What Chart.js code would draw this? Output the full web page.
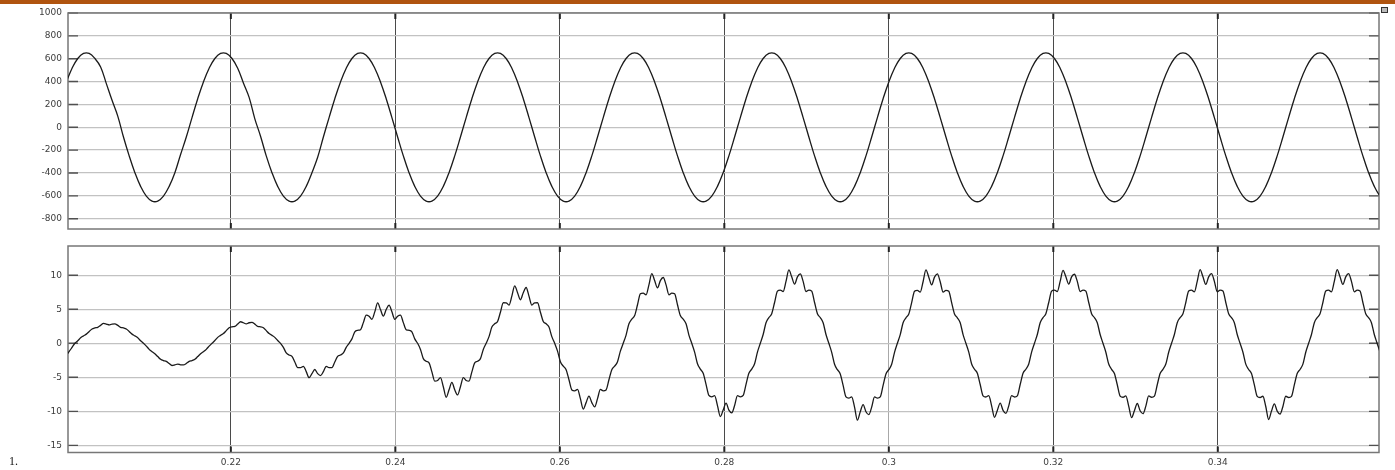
<!DOCTYPE html>
<html>
<head>
<meta charset="utf-8">
<script src="https://cdn.jsdelivr.net/npm/chart.js@4.4.1/dist/chart.umd.min.js"></script>
<style>
  html, body { margin: 0; padding: 0; background: #fff; }
  body { width: 1395px; height: 470px; position: relative; overflow: hidden; }
  .band { position: absolute; left: 0; top: 0; width: 1395px; height: 4px; background: #b0540f; }
  canvas { position: absolute; left: 0; }
  #voltageChart { top: 0; }
  #currentChart { top: 230px; }
  .fig-no { position: absolute; left: 9px; top: 454px; font: 12px "Liberation Serif", "Times New Roman", serif; color: #111; }
  .corner { position: absolute; left: 1381px; top: 7px; width: 5px; height: 4px; border: 1px solid #333; background: #bbb; }
</style>
</head>
<body>
<div class="band"></div>
<canvas id="voltageChart" width="1395" height="242"></canvas>
<canvas id="currentChart" width="1395" height="240"></canvas>
<div class="fig-no">1.</div>
<div class="corner"></div>
<script>
// time axis (s)
const timeTicks = [0.22, 0.24, 0.26, 0.28, 0.3, 0.32, 0.34];
const voltageTicks = [-800, -600, -400, -200, 0, 200, 400, 600, 800, 1000];
const currentTicks = [-15, -10, -5, 0, 5, 10];

// sampling of the two traces
const voltageStart = 0.2, voltageStep = 1 / 1440;
const currentStart = 0.2, currentStep = 1 / 2880;

// upper trace: grid voltage (V)
const voltage = [
  397, 517, 602, 646, 646, 602, 528, 382, 236, 98, -85, -250, -397, -517, -602, -646, -646, -602, -517, -397, -238, -85, 85, 250,
  397, 517, 602, 646, 646, 602, 517, 388, 262, 74, -78, -250, -397, -517, -602, -646, -646, -602, -517, -397, -262, -85, 85, 250,
  397, 517, 602, 646, 646, 602, 517, 397, 250, 85, -85, -250, -397, -517, -602, -646, -646, -602, -517, -397, -250, -85, 85, 250,
  397, 517, 602, 646, 646, 602, 517, 397, 250, 85, -85, -250, -397, -517, -602, -646, -646, -602, -517, -397, -250, -85, 85, 250,
  397, 517, 602, 646, 646, 602, 517, 397, 250, 85, -85, -250, -397, -517, -602, -646, -646, -602, -517, -397, -250, -85, 85, 250,
  397, 517, 602, 646, 646, 602, 517, 397, 250, 85, -85, -250, -397, -517, -602, -646, -646, -602, -517, -397, -250, -85, 85, 250,
  397, 517, 602, 646, 646, 602, 517, 397, 250, 85, -85, -250, -397, -517, -602, -646, -646, -602, -517, -397, -250, -85, 85, 250,
  397, 517, 602, 646, 646, 602, 517, 397, 250, 85, -85, -250, -397, -517, -602, -646, -646, -602, -517, -397, -250, -85, 85, 250,
  397, 517, 602, 646, 646, 602, 517, 397, 250, 85, -85, -250, -397, -517, -602, -646, -646, -602, -517, -397, -250, -85, 85, 250,
  397, 517, 602, 646, 646, 602, 517, 397, 250, 85, -85, -250, -397, -517, -602, -646
];

// lower trace: injected current (A)
const current = [
  -1.75, -1.2, -0.6, 0,
  0.37, 0.8, 1.09, 1.35, 1.74, 2.11, 2.26, 2.35, 2.63, 2.92, 2.83, 2.7, 2.83, 2.84, 2.63, 2.35, 2.26, 2.11, 1.74, 1.35, 1.09, 0.8, 0.37, 0,
  -0.42, -0.89, -1.23, -1.53, -1.95, -2.35, -2.54, -2.65, -2.96, -3.26, -3.17, -3.05, -3.17, -3.18, -2.96, -2.65, -2.54, -2.35, -1.95, -1.53, -1.23, -0.89, -0.42, 0,
  0.4, 0.87, 1.17, 1.43, 1.86, 2.28, 2.42, 2.48, 2.82, 3.17, 3.02, 2.85, 3.02, 3.07, 2.82, 2.48, 2.42, 2.28, 1.86, 1.43, 1.17, 0.87, 0.4, 0,
  -0.59, -1.42, -1.72, -1.93, -2.74, -3.57, -3.57, -3.38, -4.16, -5.06, -4.46, -3.85, -4.46, -4.74, -4.16, -3.38, -3.57, -3.57, -2.74, -1.93, -1.72, -1.42, -0.59, 0,
  0.65, 1.69, 1.91, 2.0, 3.04, 4.14, 3.97, 3.53, 4.62, 5.93, 4.96, 4.0, 4.96, 5.6, 4.62, 3.53, 3.97, 4.14, 3.04, 2.0, 1.91, 1.69, 0.65, 0,
  -0.9, -2.25, -2.64, -2.88, -4.2, -5.57, -5.47, -5.06, -6.38, -7.93, -6.84, -5.75, -6.84, -7.59, -6.38, -5.06, -5.47, -5.57, -4.2, -2.88, -2.64, -2.25, -0.9, 0,
  0.98, 2.38, 2.87, 3.2, 4.57, 5.96, 5.95, 5.62, 6.93, 8.45, 7.44, 6.4, 7.44, 8.2, 6.93, 5.62, 5.95, 5.96, 4.57, 3.2, 2.87, 2.38, 0.98, 0,
  -1.15, -2.7, -3.37, -3.88, -5.36, -6.85, -6.98, -6.78, -8.13, -9.66, -8.72, -7.75, -8.72, -9.34, -8.13, -6.78, -6.98, -6.85, -5.36, -3.88, -3.37, -2.7, -1.15, 0,
  1.21, 2.87, 3.56, 4.08, 5.66, 7.27, 7.38, 7.13, 8.59, 10.25, 9.22, 8.15, 9.22, 9.67, 8.59, 7.13, 7.38, 7.27, 5.66, 4.08, 3.56, 2.87, 1.21, 0,
  -1.29, -3.0, -3.79, -4.4, -6.03, -7.66, -7.86, -7.69, -9.15, -10.77, -9.82, -8.8, -9.82, -10.22, -9.15, -7.69, -7.86, -7.66, -6.03, -4.4, -3.79, -3.0, -1.29, 0,
  1.29, 3.01, 3.77, 4.35, 6.0, 7.66, 7.82, 7.61, 9.1, 10.78, 9.77, 8.7, 9.77, 10.2, 9.1, 7.61, 7.82, 7.66, 6.0, 4.35, 3.77, 3.01, 1.29, 0,
  -1.33, -3.09, -3.88, -4.5, -6.18, -7.87, -8.05, -7.87, -9.38, -11.3, -10.06, -9.0, -10.06, -10.49, -9.38, -7.87, -8.05, -7.87, -6.18, -4.5, -3.88, -3.09, -1.33, 0,
  1.28, 3.02, 3.75, 4.3, 5.97, 7.65, 7.78, 7.53, 9.05, 10.79, 9.72, 8.6, 9.72, 10.19, 9.05, 7.53, 7.78, 7.65, 5.97, 4.3, 3.75, 3.02, 1.28, 0,
  -1.3, -3.04, -3.81, -4.4, -6.06, -7.73, -7.89, -7.7, -9.19, -10.88, -9.86, -8.8, -9.86, -10.3, -9.19, -7.7, -7.89, -7.73, -6.06, -4.4, -3.81, -3.04, -1.3, 0,
  1.29, 3.01, 3.77, 4.35, 6.0, 7.66, 7.82, 7.61, 9.1, 10.72, 9.77, 8.7, 9.77, 10.15, 9.1, 7.61, 7.82, 7.66, 6.0, 4.35, 3.77, 3.01, 1.29, 0,
  -1.31, -3.05, -3.83, -4.43, -6.09, -7.76, -7.93, -7.74, -9.24, -10.92, -9.91, -8.85, -9.91, -10.35, -9.24, -7.74, -7.93, -7.76, -6.09, -4.43, -3.83, -3.05, -1.31, 0,
  1.29, 3.03, 3.77, 4.33, 6.0, 7.69, 7.82, 7.57, 9.1, 10.83, 9.77, 8.65, 9.77, 10.23, 9.1, 7.57, 7.82, 7.69, 6.0, 4.33, 3.77, 3.03, 1.29, 0,
  -1.31, -3.06, -3.85, -4.45, -6.12, -7.8, -7.97, -7.78, -9.29, -11.2, -9.96, -8.9, -9.96, -10.4, -9.29, -7.78, -7.97, -7.8, -6.12, -4.45, -3.85, -3.06, -1.31, 0,
  1.29, 3.03, 3.77, 4.33, 6.0, 7.69, 7.82, 7.57, 9.1, 10.83, 9.77, 8.65, 9.77, 10.23, 9.1, 7.57, 7.82, 7.69, 6.0, 4.33, 3.77, 3.03, 1.29, 0,
  -1.31, -3.06
];

const tickFont = { family: '"DejaVu Sans", Arial, sans-serif', size: 9 };

// box round the axes plus short inward tick marks on every side
const frame = {
  id: 'frame',
  beforeDatasetsDraw(chart) {
    const { ctx, chartArea: a, scales: { x, y } } = chart;
    ctx.save();
    ctx.strokeStyle = '#505050';
    ctx.lineWidth = 1.4;
    y.ticks.forEach(t => {
      const py = y.getPixelForValue(t.value);
      ctx.beginPath();
      ctx.moveTo(a.left, py); ctx.lineTo(a.left + 10, py);
      ctx.moveTo(a.right, py); ctx.lineTo(a.right - 10, py);
      ctx.stroke();
    });
    ctx.strokeStyle = '#222';
    ctx.lineWidth = 2;
    x.ticks.forEach(t => {
      const px = x.getPixelForValue(t.value);
      ctx.beginPath();
      ctx.moveTo(px, a.top); ctx.lineTo(px, a.top + 6);
      ctx.moveTo(px, a.bottom); ctx.lineTo(px, a.bottom - 6);
      ctx.stroke();
    });
    ctx.strokeStyle = '#777';
    ctx.lineWidth = 1.5;
    ctx.strokeRect(a.left, a.top, a.right - a.left, a.bottom - a.top);
    ctx.restore();
  }
};

function drawPanel(id, points, range, yTicks, opts) {
  return new Chart(document.getElementById(id), {
    type: 'line',
    data: {
      datasets: [{
        data: points,
        borderColor: '#1a1a1a',
        borderWidth: 1.3,
        pointRadius: 0,
        tension: opts.tension,
        cubicInterpolationMode: opts.smooth,
        fill: false
      }]
    },
    options: {
      responsive: false,
      animation: false,
      devicePixelRatio: 1,
      layout: { padding: opts.padding },
      plugins: { legend: { display: false }, tooltip: { enabled: false } },
      scales: {
        x: {
          type: 'linear',
          min: 0.2002,
          max: 0.3596,
          afterBuildTicks: s => { s.ticks = timeTicks.map(value => ({ value })); },
          afterFit: s => { s.height = opts.xHeight; },
          border: { display: false },
          grid: {
            color: c => opts.lightTimes.includes(c.tick && c.tick.value) ? '#a8a8a8' : '#4a4a4a',
            lineWidth: 1,
            drawTicks: false
          },
          ticks: {
            display: opts.showTime,
            padding: 5,
            color: '#3c3c3c',
            font: tickFont,
            maxRotation: 0,
            autoSkip: false,
            callback: v => String(+v.toFixed(2))
          }
        },
        y: {
          min: range[0],
          max: range[1],
          afterBuildTicks: s => { s.ticks = yTicks.map(value => ({ value })); },
          afterFit: s => { s.width = 68; },
          border: { display: false },
          grid: { color: '#c2c2c2', lineWidth: 1.3, drawTicks: false },
          ticks: { padding: 6, color: '#3c3c3c', font: tickFont, callback: v => String(v) }
        }
      }
    },
    plugins: [frame]
  });
}

drawPanel('voltageChart',
  voltage.map((v, i) => ({ x: voltageStart + i * voltageStep, y: v })),
  [-890, 1000], voltageTicks,
  { padding: { left: 0, right: 16, top: 13, bottom: 13 }, xHeight: 0, showTime: false, lightTimes: [],
    tension: 0.4, smooth: 'default' });

drawPanel('currentChart',
  current.map((v, i) => ({ x: currentStart + i * currentStep, y: v })),
  [-16.05, 14.3], currentTicks,
  { padding: { left: 0, right: 16, top: 16, bottom: 0 }, xHeight: 17.5, showTime: true, lightTimes: [0.24, 0.3],
    tension: 0, smooth: 'monotone' });
</script>
</body>
</html>
